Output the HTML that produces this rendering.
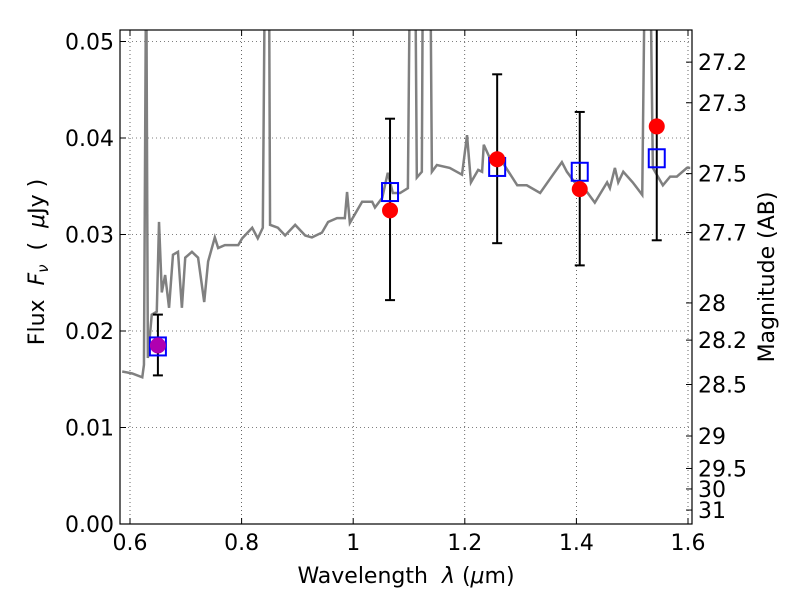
<!DOCTYPE html>
<html><head><meta charset="utf-8"><style>
body{margin:0;background:#fff;}
svg{font-family:"DejaVu Sans","Liberation Sans",sans-serif;}
</style></head><body>
<svg id="chart" width="800" height="600" xmlns="http://www.w3.org/2000/svg"></svg>
<script>
const specLam=[0.586,0.604,0.622,0.625,0.629,0.632,0.639,0.648,0.652,0.657,0.663,0.670,0.677,0.686,0.693,0.699,0.711,0.722,0.733,0.740,0.752,0.758,0.770,0.794,0.801,0.819,0.829,0.838,0.842,0.849,0.851,0.865,0.878,0.896,0.914,0.926,0.944,0.955,0.971,0.985,0.989,0.994,1.016,1.034,1.039,1.052,1.062,1.071,1.084,1.098,1.102,1.111,1.114,1.123,1.125,1.138,1.141,1.150,1.173,1.195,1.204,1.211,1.224,1.231,1.234,1.245,1.263,1.294,1.311,1.335,1.358,1.374,1.383,1.397,1.419,1.433,1.455,1.460,1.469,1.475,1.484,1.501,1.518,1.523,1.532,1.537,1.555,1.568,1.580,1.598,1.604];
const specFlux=[0.0158,0.0156,0.0152,0.0165,0.06,0.0172,0.0217,0.0220,0.0313,0.0240,0.0258,0.0224,0.0279,0.0282,0.0224,0.0276,0.0282,0.0276,0.0230,0.0272,0.0297,0.0286,0.0289,0.0289,0.0296,0.0307,0.0296,0.0307,0.06,0.06,0.0310,0.0307,0.0299,0.0310,0.0299,0.0297,0.0302,0.0313,0.0317,0.0317,0.0344,0.0312,0.0334,0.0334,0.0328,0.0338,0.0364,0.0343,0.0343,0.0348,0.06,0.06,0.0359,0.0365,0.06,0.06,0.0365,0.0372,0.0369,0.0362,0.0403,0.0354,0.0367,0.0365,0.0393,0.0379,0.0379,0.0351,0.0351,0.0343,0.0362,0.0375,0.0365,0.0354,0.0344,0.0333,0.0354,0.0348,0.0369,0.0354,0.0365,0.0354,0.0341,0.06,0.06,0.0369,0.0351,0.0360,0.0360,0.0369,0.0369];
const bandLam=[0.650,1.066,1.258,1.406,1.544];
const modelFlux=[0.0184,0.0344,0.0370,0.0365,0.0379];
const obsFlux=[0.0185,0.0325,0.0378,0.0347,0.0412];
const errLo=[0.0154,0.0232,0.0291,0.0268,0.0294];
const errHi=[0.0217,0.0420,0.0466,0.0427,0.0560];
const xTicks=[0.6,0.8,1.0,1.2,1.4,1.6];
const xTickLabels=["0.6","0.8","1","1.2","1.4","1.6"];
const yTicks=[0,0.01,0.02,0.03,0.04,0.05];
const yTickLabels=["0.00","0.01","0.02","0.03","0.04","0.05"];
const magTicks=[27.2,27.3,27.5,27.7,28,28.2,28.5,29,29.5,30,31];

const L=120,R=692,T=30,B=524;
const X=v=>130+(v-0.6)*558;
const Y=v=>524-v*9650;
const svg=document.getElementById('chart');
const NS='http://www.w3.org/2000/svg';
function mk(tag,attrs,parent){const e=document.createElementNS(NS,tag);for(const k in attrs)e.setAttribute(k,attrs[k]);(parent||svg).appendChild(e);return e;}

const defs=mk('defs',{});
const cp=mk('clipPath',{id:'clip'},defs);
mk('rect',{x:L,y:T,width:R-L,height:B-T},cp);

const grid=mk('g',{});


xTicks.forEach(v=>mk('line',{x1:X(v),x2:X(v),y1:T,y2:B,stroke:'#000','stroke-width':0.6,'stroke-dasharray':'1,3'},grid));
yTicks.forEach(v=>mk('line',{x1:L,x2:R,y1:Y(v),y2:Y(v),stroke:'#000','stroke-width':0.6,'stroke-dasharray':'1,3'},grid));

const plot=mk('g',{'clip-path':'url(#clip)'});
const sp=mk('polyline',{points:specLam.map((l,i)=>X(l)+','+Y(specFlux[i])).join(' '),fill:'none',stroke:'#808080','stroke-width':2.5},plot);



bandLam.forEach((l,i)=>{
  const g=mk('g',{},plot);
  
  
  const x=X(l);
  mk('line',{x1:x,x2:x,y1:Y(errLo[i]),y2:Y(errHi[i]),stroke:'#000','stroke-width':2},g);
  mk('line',{x1:x-5,x2:x+5,y1:Y(errLo[i]),y2:Y(errLo[i]),stroke:'#000','stroke-width':2},g);
  mk('line',{x1:x-5,x2:x+5,y1:Y(errHi[i]),y2:Y(errHi[i]),stroke:'#000','stroke-width':2},g);
});
bandLam.forEach((l,i)=>{
  const s=mk('rect',{x:X(l)-8,y:Y(modelFlux[i])-9,width:16,height:18,fill:'none',stroke:'#0000ff','stroke-width':2},plot);
  
  
});
bandLam.forEach((l,i)=>{
  const c=mk('circle',{cx:X(l),cy:Y(obsFlux[i]),r:8,fill:i===0?'#b000b0':'#ff0000'},plot);
  
  
});

const frame=mk('rect',{x:L,y:T,width:R-L,height:B-T,fill:'none',stroke:'#000','stroke-width':1.2});



const FS=22;
const xa=mk('g',{'font-size':FS,'text-anchor':'middle'});


xTicks.forEach((v,i)=>{
  mk('line',{x1:X(v),x2:X(v),y1:B,y2:B-6,stroke:'#000'},xa);
  mk('line',{x1:X(v),x2:X(v),y1:T,y2:T+6,stroke:'#000'},xa);
  const t=mk('text',{x:X(v),y:B+26},xa);t.textContent=xTickLabels[i];
});
const ya=mk('g',{'font-size':FS,'text-anchor':'end'});


yTicks.forEach((v,i)=>{
  mk('line',{x1:L,x2:L+6,y1:Y(v),y2:Y(v),stroke:'#000'},ya);
  const t=mk('text',{x:L-6,y:Y(v)+8},ya);t.textContent=yTickLabels[i];
});
const ra=mk('g',{'font-size':FS,'text-anchor':'start'});


magTicks.forEach(m=>{
  const y=Y(Math.pow(10,(23.9-m)/2.5));
  mk('line',{x1:R,x2:R-6,y1:y,y2:y,stroke:'#000'},ra);
  const t=mk('text',{x:R+6,y:y+8},ra);t.textContent=String(m);
});

const xt=mk('text',{x:406,y:583,'font-size':FS,'text-anchor':'middle'});


xt.innerHTML='Wavelength&#160;&#160;<tspan font-style="italic">λ</tspan> (<tspan font-style="italic">μ</tspan>m)';
const yt=mk('text',{x:0,y:0,'font-size':FS,'text-anchor':'middle',transform:'translate(44,262) rotate(-90)'});


yt.innerHTML='Flux&#160;&#160;<tspan font-style="italic">F</tspan><tspan font-style="italic" font-size="15" dy="4">ν</tspan><tspan dy="-4">&#160;&#160;(&#160;&#160;</tspan><tspan font-style="italic">μ</tspan>Jy )';
const rt=mk('text',{x:0,y:0,'font-size':FS,'text-anchor':'middle',transform:'translate(774,277) rotate(-90)'});


rt.textContent='Magnitude (AB)';
</script>
</body></html>
